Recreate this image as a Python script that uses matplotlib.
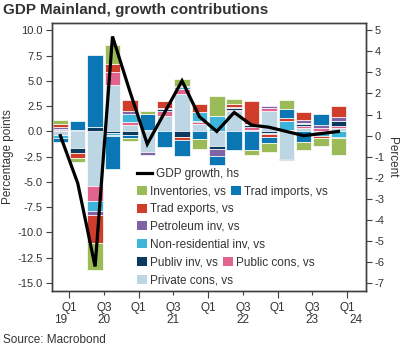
import numpy as np
import pandas as pd
import matplotlib
matplotlib.use('Agg')
import matplotlib.pyplot as plt
from matplotlib.patches import Patch
from matplotlib.lines import Line2D
from matplotlib.transforms import blended_transform_factory

plt.rcParams['font.family'] = ['Liberation Sans', 'DejaVu Sans']
plt.rcParams['axes.unicode_minus'] = False

# Quarterly data, 2019Q4 - 2023Q4
first_quarter = '2019Q4'
last_quarter = '2023Q4'

# GDP growth, right axis (percent)
gdp_growth = [0.0, -2.25, -6.2, 4.7, 2.1, -0.4, 1.1, 2.6, 0.9, 0.2, 1.1, 0.5, 0.4, 0.2, 0.0, 0.1, 0.2]

# Contributions, left axis (percentage points)
private_cons = [-0.4, -1.6, -5.45, 4.58, 0.6, -2.0, 1.55, 3.7, 0.75, -1.4, 2.0, 0.15, 2.05, -2.75, 0.3, -0.2, 0.3]
public_cons = [0.1, -0.05, -1.4, 1.32, 0.35, 0.0, 0.5, 0.5, 0.15, 0.05, 0.1, 0.25, 0.25, 0.1, 0.25, 0.3, 0.2]
publiv_inv = [0.15, -0.45, 0.45, -0.15, -0.4, 0.15, 0.2, -0.55, 0.08, -0.3, 0.25, 0.2, -0.16, -0.12, 0.2, 0.0, 0.5]
nonres_inv = [-0.3, 0.0, -1.0, -0.2, 0.8, 0.0, 0.0, 0.15, 0.9, 1.45, 0.0, 0.1, -0.1, 0.95, 0.1, -0.3, -0.55]
petroleum_inv = [0.15, 0.1, -0.43, -0.15, 0.3, -0.3, 0.1, 0.1, 0.0, -0.75, 0.1, 0.0, 0.2, 0.0, 0.3, 0.35, 0.45]
trad_exports = [0.35, -0.55, -2.8, 0.72, 1.1, 0.0, 0.65, -0.35, 0.85, 0.0, 0.25, 2.3, -0.26, 0.25, 0.8, -0.12, 1.05]
trad_imports = [-0.35, 0.9, 7.1, -3.25, -0.3, 1.55, -1.55, -1.55, -0.8, -0.85, -1.85, -1.85, -0.62, 0.9, -1.0, 1.05, -0.1]
inventories = [0.35, -0.4, -2.6, 1.92, -0.25, 0.35, 0.0, 0.7, -0.9, 2.05, 0.55, -0.5, -0.9, 0.95, -0.8, -0.85, -1.65]

TEXT = '#333333'
SPINE = '#404040'
colors = {
    'Inventories, vs': '#9bbb59',
    'Trad imports, vs': '#0a76b4',
    'Trad exports, vs': '#d03e2b',
    'Petroleum inv, vs': '#7e63a5',
    'Non-residential inv, vs': '#3db5da',
    'Publiv inv, vs': '#0b3a60',
    'Public cons, vs': '#e1648e',
    'Private cons, vs': '#bcd6e3',
}

# stacking order, from zero outwards
stack = [
    ('Private cons, vs', private_cons),
    ('Public cons, vs', public_cons),
    ('Publiv inv, vs', publiv_inv),
    ('Non-residential inv, vs', nonres_inv),
    ('Petroleum inv, vs', petroleum_inv),
    ('Trad exports, vs', trad_exports),
    ('Trad imports, vs', trad_imports),
    ('Inventories, vs', inventories),
]

periods = pd.period_range(first_quarter, last_quarter, freq='Q')
n = len(periods)
x = np.arange(n)
xlim = (-0.48, n + 0.56)

fig = plt.figure(figsize=(4, 3.5), dpi=100)
ax = fig.add_axes([0.13, 0.1686, 0.784, 0.7664])

# Stacked bars, positives up and negatives down
pos_base = np.zeros(n)
neg_base = np.zeros(n)
for name, values in stack:
    v = np.array(values, dtype=float)
    bottom = np.where(v >= 0, pos_base, neg_base)
    ax.bar(x, v, width=0.89, bottom=bottom, color=colors[name],
           edgecolor='white', linewidth=0.5, zorder=2)
    pos_base += np.where(v > 0, v, 0)
    neg_base += np.where(v < 0, v, 0)

ax.set_xlim(xlim)
ax.set_ylim(-15.79, 10.75)
left_ticks = np.arange(-15, 10.1, 2.5)
ax.set_yticks(left_ticks)
ax.set_yticklabels(['{:.1f}'.format(t) for t in left_ticks])
ax.set_ylabel('Percentage points', fontsize=8.5, color=TEXT, va='center')
ax.yaxis.set_label_coords(-0.14, 0.5)

# GDP growth on the right axis
ax2 = ax.twinx()
ax2.plot(x, gdp_growth, color='black', linewidth=2.3, solid_joinstyle='miter', zorder=3)
ax2.set_ylim(-7.36, 5.35)
ax2.set_yticks(np.arange(-7, 6, 1))
ax2.set_ylabel('Percent', fontsize=8.5, color=TEXT, rotation=270, va='center')
ax2.yaxis.set_label_coords(1.085, 0.5)

# Quarter ticks at the start of Q1 and Q3
q1_pos, q3_pos = [], []
for k in range(n + 1):
    q = (periods[0] + k).quarter
    if q == 1:
        q1_pos.append(k - 0.5)
    elif q == 3:
        q3_pos.append(k - 0.5)
ax.set_xticks(q1_pos)
ax.set_xticklabels(['Q1'] * len(q1_pos))
ax.set_xticks(q3_pos, minor=True)
ax.set_xticklabels(['Q3'] * len(q3_pos), minor=True)

# Year labels, centred on the visible part of each year
trans = blended_transform_factory(ax.transData, ax.transAxes)
first_year = periods[0].year
for year in range(first_year, periods[-1].year + 2):
    start = (year - first_year - 1) * 4 + 0.5
    end = start + 4
    lo, hi = max(start, xlim[0]), min(end, xlim[1])
    if hi > lo:
        ax.text((lo + hi) / 2, -0.11, str(year)[2:], transform=trans,
                ha='center', va='center', fontsize=8.5, color=TEXT)

for a in (ax, ax2):
    for s in a.spines.values():
        s.set_color(SPINE)
        s.set_linewidth(1.0)
ax.tick_params(axis='y', length=4.5, width=0.8, color=SPINE, labelsize=8, labelcolor=TEXT, pad=2)
ax2.tick_params(axis='y', length=4.5, width=0.8, color=SPINE, labelsize=8, labelcolor=TEXT, pad=2)
ax.tick_params(axis='x', which='major', length=5, width=0.8, color=SPINE, labelsize=8.5, labelcolor=TEXT, pad=3)
ax.tick_params(axis='x', which='minor', length=3, width=0.8, color=SPINE, labelsize=8.5, labelcolor=TEXT, pad=5)

# Legend, laid out row by row like the original
legend_rows = [
    ['GDP growth, hs'],
    ['Inventories, vs', 'Trad imports, vs'],
    ['Trad exports, vs'],
    ['Petroleum inv, vs'],
    ['Non-residential inv, vs'],
    ['Publiv inv, vs', 'Public cons, vs'],
    ['Private cons, vs'],
]
row_y = [174, 191.7, 209.3, 226.7, 244.3, 262.7, 280.7]
for labels, yy in zip(legend_rows, row_y):
    if labels[0].startswith('GDP'):
        handles = [Line2D([], [], color='black', linewidth=2.3)]
        hlen = 1.35
    else:
        handles = [Patch(facecolor=colors[l], edgecolor='none') for l in labels]
        hlen = 0.85
    fig.legend(handles, labels, loc='center left', bbox_to_anchor=(136.5 / 400, 1 - yy / 350),
               ncol=len(labels), frameon=False, fontsize=8.5, labelcolor=TEXT,
               handlelength=hlen, handleheight=0.85, handletextpad=0.3,
               columnspacing=0.4, borderpad=0, borderaxespad=0)

fig.text(0.008, 1 - 10 / 350, 'GDP Mainland, growth contributions', fontsize=11,
         fontweight='bold', color=TEXT, va='center', ha='left')
fig.text(0.008, 1 - 340 / 350, 'Source: Macrobond', fontsize=8.5, color=TEXT, va='center', ha='left')

fig.savefig('out.png', dpi=100)
